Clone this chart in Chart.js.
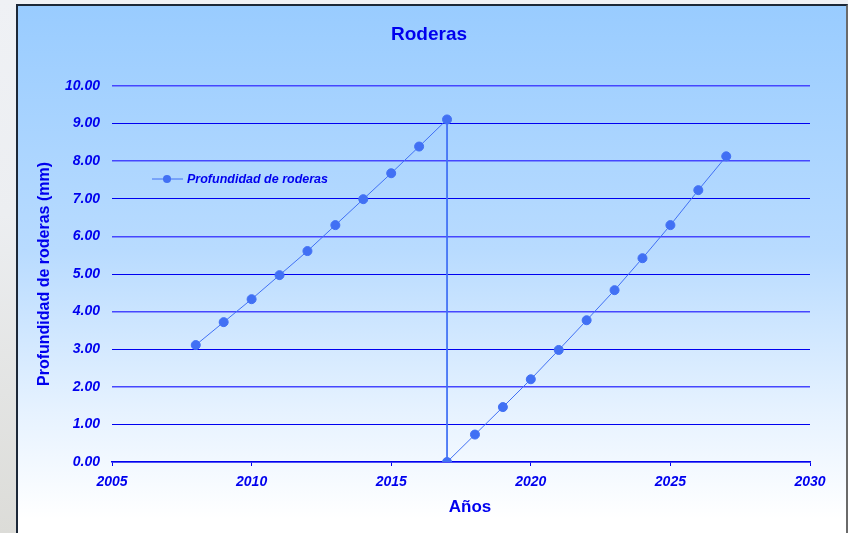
<!DOCTYPE html>
<html>
<head>
<meta charset="utf-8">
<title>Roderas</title>
<script src="https://cdn.jsdelivr.net/npm/chart.js@4"></script>
<style>
  html, body { margin: 0; padding: 0; }
  body {
    width: 848px; height: 533px; overflow: hidden; position: relative;
    background: linear-gradient(to bottom, #eff1f5 0%, #eceef1 40%, #dcdcd8 100%);
  }
  #box {
    position: absolute; left: 16px; top: 4px; width: 828px; height: 540px;
    border-left: 2px solid #1c2838; border-top: 2px solid #1c2838; border-right: 2px solid #6a6a6a;
    background: linear-gradient(to bottom, #99ccff 0%, #b8dbff 45%, #e6f2ff 75%, #ffffff 95%);
  }
  #wrap { position: absolute; left: 0; top: 0; width: 848px; height: 533px; }
</style>
</head>
<body>
<div id="box"></div>
<div id="wrap"><canvas id="roderas-chart"></canvas></div>
<script>
// Rut depth per year (two cycles, reset to zero in 2017)
const years = [2008, 2009, 2010, 2011, 2012, 2013, 2014, 2015, 2016, 2017,
               2017, 2018, 2019, 2020, 2021, 2022, 2023, 2024, 2025, 2026, 2027];
const depth = [3.11, 3.72, 4.33, 4.97, 5.61, 6.30, 6.99, 7.68, 8.39, 9.11,
               0.00, 0.73, 1.46, 2.20, 2.98, 3.77, 4.57, 5.42, 6.30, 7.23, 8.13];
const xTicks = [2005, 2010, 2015, 2020, 2025, 2030];
const yTicks = [0, 1, 2, 3, 4, 5, 6, 7, 8, 9, 10];
const seriesName = 'Profundidad de roderas';
const chartTitle = 'Roderas';
const xTitle = 'Años';

const blue = '#0000ee';
const lineBlue = '#4170f4';
const font = 'Liberation Sans, Arial, sans-serif';

// Title, x-axis title and legend are placed relative to the framed box,
// not the plot area, so they are drawn here
const boxText = {
    id: 'boxText',
    afterDraw(chart) {
        const ctx = chart.ctx;
        ctx.save();
        ctx.fillStyle = blue;
        ctx.textAlign = 'center';
        ctx.textBaseline = 'middle';
        ctx.font = 'bold 19px ' + font;
        ctx.fillText(chartTitle, 429, 35);
        ctx.font = 'bold 17px ' + font;
        ctx.fillText(xTitle, 470, 507);

        // legend inside the plot
        const y = 179;
        ctx.strokeStyle = lineBlue;
        ctx.lineWidth = 1;
        ctx.beginPath();
        ctx.moveTo(152, y);
        ctx.lineTo(183, y);
        ctx.stroke();
        ctx.fillStyle = lineBlue;
        ctx.beginPath();
        ctx.arc(167, y, 4, 0, Math.PI * 2);
        ctx.fill();
        ctx.fillStyle = blue;
        ctx.textAlign = 'left';
        ctx.font = 'italic bold 12.5px ' + font;
        ctx.fillText(seriesName, 187, y + 0.5);
        ctx.restore();
    }
};

const points = years.map((x, i) => ({ x: x, y: depth[i] }));

new Chart(document.getElementById('roderas-chart'), {
    type: 'line',
    data: {
        datasets: [{
            label: seriesName,
            data: points,
            borderColor: lineBlue,
            borderWidth: 1,
            backgroundColor: lineBlue,
            pointBackgroundColor: lineBlue,
            pointBorderColor: lineBlue,
            pointRadius: 4.5,
            tension: 0
        }]
    },
    options: {
        responsive: true,
        maintainAspectRatio: false,
        animation: false,
        layout: { padding: { left: 0, right: 38, top: 86, bottom: 0 } },
        plugins: {
            legend: { display: false },
            tooltip: { enabled: false },
            title: { display: false }
        },
        scales: {
            x: {
                type: 'linear',
                min: 2005,
                max: 2030,
                afterBuildTicks: s => { s.ticks = xTicks.map(v => ({ value: v })); },
                afterFit: s => { s.height = 71; },
                grid: { drawOnChartArea: false, color: blue, tickLength: 4 },
                border: { color: blue, width: 1.5 },
                ticks: {
                    color: blue,
                    padding: 8,
                    maxRotation: 0,
                    font: { family: font, size: 14, weight: 'bold', style: 'italic' },
                    callback: v => String(v)
                }
            },
            y: {
                min: 0,
                max: 10,
                afterBuildTicks: s => { s.ticks = yTicks.map(v => ({ value: v })); },
                afterFit: s => { s.width = 112; },
                grid: {
                    drawTicks: false,
                    color: c => (c.tick.value % 2 === 0 ? '#4646ff' : '#0000f0'),
                    lineWidth: c => (c.tick.value % 2 === 0 ? 1.6 : 1)
                },
                border: { display: false },
                ticks: {
                    color: blue,
                    padding: 12,
                    font: { family: font, size: 14, weight: 'bold', style: 'italic' },
                    callback: v => v.toFixed(2)
                },
                title: {
                    display: true,
                    text: 'Profundidad de roderas (mm)',
                    color: blue,
                    font: { family: font, size: 16, weight: 'bold' },
                    padding: { top: 35, bottom: 0 }
                }
            }
        }
    },
    plugins: [boxText]
});
</script>
</body>
</html>
